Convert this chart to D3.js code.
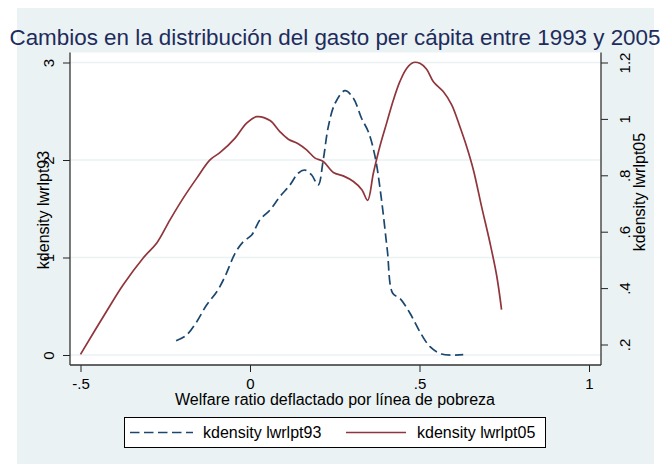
<!DOCTYPE html>
<html>
<head>
<meta charset="utf-8">
<script src="https://cdn.jsdelivr.net/npm/d3@7"></script>
<style>
  body { margin: 0; background: #fff; }
  text { font-family: "Liberation Sans", Arial, sans-serif; }
</style>
</head>
<body>
<script>
// kdensity lwrlpt93 (left axis)
var x93 = [-0.218, -0.187, -0.157, -0.128, -0.098, -0.074, -0.044, -0.020, 0.005, 0.029,
           0.059, 0.088, 0.118, 0.142, 0.162, 0.182, 0.201, 0.216, 0.231, 0.251,
           0.280, 0.305, 0.329, 0.349, 0.369, 0.388, 0.405, 0.421, 0.442, 0.472,
           0.501, 0.531, 0.565, 0.629];
var y93 = [0.147, 0.205, 0.342, 0.513, 0.649, 0.803, 1.043, 1.162, 1.231, 1.385,
           1.487, 1.624, 1.744, 1.864, 1.897, 1.846, 1.744, 2.000, 2.342, 2.582,
           2.711, 2.633, 2.428, 2.290, 2.034, 1.590, 1.077, 0.633, 0.582, 0.428,
           0.239, 0.085, 0.010, 0.003];
// kdensity lwrlpt05 (right axis)
var x05 = [-0.500, -0.423, -0.374, -0.315, -0.275, -0.236, -0.197, -0.157, -0.118, -0.088,
           -0.044, -0.010, 0.020, 0.059, 0.088, 0.113, 0.142, 0.167, 0.192, 0.216,
           0.246, 0.275, 0.305, 0.330, 0.347, 0.364, 0.383, 0.403, 0.423, 0.442,
           0.462, 0.482, 0.501, 0.521, 0.541, 0.570, 0.595, 0.619, 0.639, 0.659,
           0.683, 0.708, 0.728, 0.742];
var y05 = [0.165, 0.318, 0.412, 0.507, 0.560, 0.642, 0.719, 0.790, 0.855, 0.881,
           0.932, 0.985, 1.008, 0.994, 0.955, 0.928, 0.912, 0.890, 0.861, 0.849,
           0.810, 0.798, 0.778, 0.749, 0.711, 0.808, 0.902, 0.985, 1.067, 1.132,
           1.179, 1.200, 1.197, 1.176, 1.132, 1.097, 1.050, 0.973, 0.902, 0.819,
           0.690, 0.560, 0.442, 0.324];

var xTicks = [-0.5, 0, 0.5, 1];
var xTickLabels = ["-.5", "0", ".5", "1"];
var yLeftTicks = [0, 1, 2, 3];
var yRightTicks = [0.2, 0.4, 0.6, 0.8, 1, 1.2];
var yRightLabels = [".2", ".4", ".6", ".8", "1", "1.2"];

var title = "Cambios en la distribución del gasto per cápita entre 1993 y 2005";
var xTitle = "Welfare ratio deflactado por línea de pobreza";
var names = ["kdensity lwrlpt93", "kdensity lwrlpt05"];
var colors = ["#1a476f", "#90353b"];

var W = 661, H = 464;
var svg = d3.select("body").append("svg").attr("width", W).attr("height", H);

// graph region
svg.append("rect").attr("x", 17).attr("y", 8).attr("width", 637).attr("height", 456)
   .attr("fill", "#eaf2f3");

var L = 70, R = 601, T = 52.5, B = 365;
svg.append("rect").attr("x", L).attr("y", T).attr("width", R - L).attr("height", B - T)
   .attr("fill", "#fff");

var x = d3.scaleLinear().domain([-0.5, 1]).range([80.5, 589]);
var yL = d3.scaleLinear().domain([0, 3]).range([355, 62.5]);
var yR = d3.scaleLinear().domain([0.2, 1.2]).range([344.5, 62.5]);

// gridlines
svg.append("g").selectAll("line").data(yLeftTicks).enter().append("line")
   .attr("x1", L).attr("x2", R)
   .attr("y1", function(d){ return yL(d); }).attr("y2", function(d){ return yL(d); })
   .attr("stroke", "#eaf2f3").attr("stroke-width", 1.5);

// curves
var line93 = d3.line().curve(d3.curveCatmullRom.alpha(0.5))
   .x(function(d){ return x(d[0]); }).y(function(d){ return yL(d[1]); });
var line05 = d3.line().curve(d3.curveCatmullRom.alpha(0.5))
   .x(function(d){ return x(d[0]); }).y(function(d){ return yR(d[1]); });

svg.append("path").datum(d3.zip(x93, y93)).attr("d", line93)
   .attr("fill", "none").attr("stroke", colors[0]).attr("stroke-width", 1.7)
   .attr("stroke-dasharray", "9.5,4.5");
svg.append("path").datum(d3.zip(x05, y05)).attr("d", line05)
   .attr("fill", "none").attr("stroke", colors[1]).attr("stroke-width", 1.7);

// axes
var fs = 15;
var gl = svg.append("g").attr("transform", "translate(" + L + ",0)")
   .call(d3.axisLeft(yL).tickValues(yLeftTicks).tickSize(7).tickFormat(d3.format("d")));
gl.selectAll("text").attr("x", null).attr("dy", null).attr("text-anchor", "middle")
   .attr("transform", "translate(-16,0) rotate(-90)");

var gr = svg.append("g").attr("transform", "translate(" + R + ",0)")
   .call(d3.axisRight(yR).tickValues(yRightTicks).tickSize(7)
   .tickFormat(function(d, i){ return yRightLabels[i]; }));
gr.selectAll("text").attr("x", null).attr("dy", null).attr("text-anchor", "middle")
   .attr("transform", "translate(29,0) rotate(-90)");

var gb = svg.append("g").attr("transform", "translate(0," + B + ")")
   .call(d3.axisBottom(x).tickValues(xTicks).tickSize(7)
   .tickFormat(function(d, i){ return xTickLabels[i]; }));
gb.selectAll("text").attr("dy", null).attr("y", 24);

[gl, gr, gb].forEach(function(g){
  g.select(".domain").remove();
  g.selectAll("text").attr("font-size", fs).attr("fill", "#000")
   .attr("font-family", "Liberation Sans, Arial, sans-serif");
  g.selectAll("line").attr("stroke", "#222");
});

// axis lines
svg.append("line").attr("x1", L).attr("x2", L).attr("y1", T).attr("y2", B).attr("stroke", "#333").attr("stroke-width", 1.3);
svg.append("line").attr("x1", R).attr("x2", R).attr("y1", T).attr("y2", B).attr("stroke", "#333").attr("stroke-width", 1.3);
svg.append("line").attr("x1", L).attr("x2", R).attr("y1", B).attr("y2", B).attr("stroke", "#333").attr("stroke-width", 1.3);

// titles
svg.append("text").attr("x", 335).attr("y", 45).attr("text-anchor", "middle")
   .attr("font-size", 22.4).attr("fill", "#1e2c5c").text(title);
svg.append("text").attr("x", 335).attr("y", 405).attr("text-anchor", "middle")
   .attr("font-size", 16).attr("fill", "#000").text(xTitle);
svg.append("text").attr("transform", "translate(49,210) rotate(-90)").attr("text-anchor", "middle")
   .attr("font-size", 16).attr("fill", "#000").text(names[0]);
svg.append("text").attr("transform", "translate(645,192) rotate(-90)").attr("text-anchor", "middle")
   .attr("font-size", 16).attr("fill", "#000").text(names[1]);

// legend
var lg = svg.append("g");
lg.append("rect").attr("x", 124.5).attr("y", 417.5).attr("width", 421).attr("height", 30)
  .attr("fill", "#fff").attr("stroke", "#000").attr("stroke-width", 1);
var items = [{x0: 130, x1: 193, tx: 203}, {x0: 346, x1: 406, tx: 417}];
items.forEach(function(it, i){
  lg.append("line").attr("x1", it.x0).attr("x2", it.x1).attr("y1", 432.5).attr("y2", 432.5)
    .attr("stroke", colors[i]).attr("stroke-width", 1.7)
    .attr("stroke-dasharray", i === 0 ? "9.5,4.5" : null);
  lg.append("text").attr("x", it.tx).attr("y", 438).attr("font-size", 16).attr("fill", "#000")
    .text(names[i]);
});
</script>
</body>
</html>
